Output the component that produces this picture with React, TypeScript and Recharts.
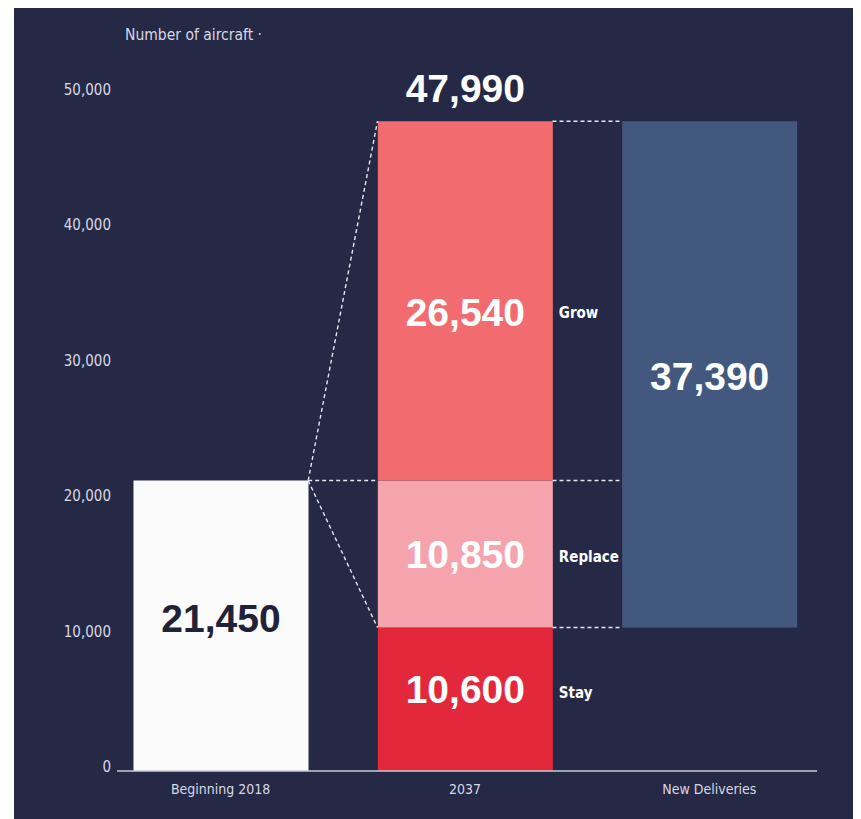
import React from "react";
import { ComposedChart, Bar, XAxis, YAxis, ReferenceLine, LabelList } from "recharts";

// ---------- data ----------
const categories = ["Beginning 2018", "2037", "New Deliveries"];
const beginning = [21450, null, null];
const stay = [null, 10600, null];
const replace = [null, 10850, null];
const grow = [null, 26540, null];
const deliveriesBase = [null, null, 10600];
const deliveries = [null, null, 37390];
const totals = [null, 47990, null];
const yTicks = [0, 10000, 20000, 30000, 40000, 50000];
const segmentNames = { stay: "Stay", replace: "Replace", grow: "Grow" };
const yAxisTitle = "Number of aircraft ·";

const data = categories.map((category, i) => ({
  category,
  beginning: beginning[i],
  stay: stay[i],
  replace: replace[i],
  grow: grow[i],
  deliveriesBase: deliveriesBase[i],
  deliveries: deliveries[i],
  total: totals[i],
}));

// ---------- layout / style ----------
const W = 847;
const H = 811;
const MARGIN = { top: 86, right: 44, bottom: 18, left: 0 };
const Y_AXIS_W = 103;
const X_AXIS_H = 30;
const PAD_L = -18.5;
const PAD_R = -14.5;
const BAR = 175;

const BG = "#252946";
const C_WHITE = "#fbfbfb";
const C_STAY = "#e3283c";
const C_REPLACE = "#f5a3ad";
const C_GROW = "#f26b6e";
const C_BLUE = "#42587e";
const C_TEXT = "#d8d8e2";
const C_DASH = "#e6e6ee";

const CONDENSED = "'Liberation Sans Narrow', 'Arial Narrow', 'DejaVu Sans Condensed', sans-serif";
const BOLD = "'Liberation Sans', Arial, Helvetica, sans-serif";
const NUM_SIZE = 39;

const fmt = (v: number) => v.toLocaleString("en-US");

const box = (p: any) => {
  const vb = p.viewBox && p.viewBox.x !== undefined ? p.viewBox : p;
  return { x: Number(vb.x), y: Number(vb.y), width: Number(vb.width), height: Number(vb.height) };
};

const valueLabel = (color: string, dy = 0) => (p: any) => {
  if (p.value === null || p.value === undefined || p.value === 0) return null;
  const { x, y, width, height } = box(p);
  return (
    <text
      x={x + width / 2}
      y={y + height / 2 + dy}
      fill={color}
      textAnchor="middle"
      dominantBaseline="central"
      style={{ fontFamily: BOLD, fontWeight: 700, fontSize: NUM_SIZE }}
    >
      {fmt(Number(p.value))}
    </text>
  );
};

const nameLabel = (name: string, dy = 0) => (p: any) => {
  if (p.value === null || p.value === undefined || p.value === 0) return null;
  const { x, y, width, height } = box(p);
  return (
    <text
      x={x + width + 6}
      y={y + height / 2 + dy}
      fill="#ffffff"
      textAnchor="start"
      dominantBaseline="central"
      style={{ fontFamily: CONDENSED, fontWeight: 700, fontSize: 15 }}
    >
      {name}
    </text>
  );
};

const totalLabel = (p: any) => {
  if (p.value === null || p.value === undefined) return null;
  const { x, y, width } = box(p);
  return (
    <text
      x={x + width / 2}
      y={y - 33}
      fill="#ffffff"
      textAnchor="middle"
      dominantBaseline="central"
      style={{ fontFamily: BOLD, fontWeight: 700, fontSize: NUM_SIZE }}
    >
      {fmt(Number(p.value))}
    </text>
  );
};

const YTick = (p: any) => (
  <text
    x={p.x}
    y={p.y - 4}
    fill={C_TEXT}
    textAnchor="end"
    dominantBaseline="central"
    style={{ fontFamily: CONDENSED, fontSize: 15 }}
  >
    {fmt(Number(p.payload.value))}
  </text>
);

const XTick = (p: any) => (
  <text
    x={p.x}
    y={p.y + 18}
    fill={C_TEXT}
    textAnchor="middle"
    dominantBaseline="central"
    style={{ fontFamily: CONDENSED, fontSize: 14 }}
  >
    {p.payload.value}
  </text>
);

const YTitle = (p: any) => {
  const vb = p.viewBox || {};
  return (
    <text
      x={Number(vb.x) + Number(vb.width) + 8}
      y={Number(vb.y) - 59}
      fill={C_TEXT}
      textAnchor="start"
      dominantBaseline="central"
      style={{ fontFamily: CONDENSED, fontSize: 15.5 }}
    >
      {yAxisTitle}
    </text>
  );
};

// dashed connector from the right edge of one bar to the left edge of the next
const Connector = (p: any) => (
  <line
    x1={Number(p.x1) + BAR / 2}
    y1={p.y1}
    x2={Number(p.x2) - BAR / 2}
    y2={p.y2}
    stroke={C_DASH}
    strokeWidth={1.4}
    strokeDasharray="4 3"
  />
);

const seg = (c1: string, v1: number, c2: string, v2: number) => [
  { x: c1, y: v1 },
  { x: c2, y: v2 },
];

export default function App() {
  const b = beginning[0] as number;
  const t = totals[1] as number;
  const s = stay[1] as number;
  const sr = (stay[1] as number) + (replace[1] as number);
  return (
    <div style={{ marginLeft: 6, width: W, height: H, background: BG }}>
      <ComposedChart width={W} height={H} data={data} margin={MARGIN}>
        <YAxis
          type="number"
          domain={[0, 50000]}
          ticks={yTicks}
          width={Y_AXIS_W}
          axisLine={false}
          tickLine={false}
          tickSize={0}
          tickMargin={6}
          tick={<YTick />}
          interval={0}
          label={{ content: <YTitle /> }}
        />
        <XAxis
          dataKey="category"
          height={X_AXIS_H}
          padding={{ left: PAD_L, right: PAD_R }}
          axisLine={{ stroke: "#c9cad4", strokeWidth: 1.6 }}
          tickLine={false}
          tickSize={0}
          tickMargin={0}
          tick={<XTick />}
          interval={0}
        />
        <Bar dataKey="beginning" stackId="s" fill={C_WHITE} barSize={BAR} isAnimationActive={false}>
          <LabelList dataKey="beginning" content={valueLabel("#1f2239", -7)} />
        </Bar>
        <Bar dataKey="stay" stackId="s" fill={C_STAY} barSize={BAR} isAnimationActive={false}>
          <LabelList dataKey="stay" content={valueLabel("#ffffff", -10)} />
          <LabelList dataKey="stay" content={nameLabel(segmentNames.stay, -6)} />
        </Bar>
        <Bar dataKey="replace" stackId="s" fill={C_REPLACE} barSize={BAR} isAnimationActive={false}>
          <LabelList dataKey="replace" content={valueLabel("#ffffff", 0)} />
          <LabelList dataKey="replace" content={nameLabel(segmentNames.replace, 3)} />
        </Bar>
        <Bar dataKey="grow" stackId="s" fill={C_GROW} barSize={BAR} isAnimationActive={false}>
          <LabelList dataKey="grow" content={valueLabel("#ffffff", 12)} />
          <LabelList dataKey="grow" content={nameLabel(segmentNames.grow, 12)} />
          <LabelList dataKey="total" content={totalLabel} />
        </Bar>
        <Bar dataKey="deliveriesBase" stackId="s" fill="transparent" barSize={BAR} isAnimationActive={false} />
        <Bar dataKey="deliveries" stackId="s" fill={C_BLUE} barSize={BAR} isAnimationActive={false}>
          <LabelList dataKey="deliveries" content={valueLabel("#ffffff", 2)} />
        </Bar>

        <ReferenceLine ifOverflow="visible" shape={Connector} segment={seg(categories[0], b, categories[1], b)} />
        <ReferenceLine ifOverflow="visible" shape={Connector} segment={seg(categories[0], b, categories[1], t)} />
        <ReferenceLine ifOverflow="visible" shape={Connector} segment={seg(categories[0], b, categories[1], s)} />
        <ReferenceLine ifOverflow="visible" shape={Connector} segment={seg(categories[1], t, categories[2], t)} />
        <ReferenceLine ifOverflow="visible" shape={Connector} segment={seg(categories[1], sr, categories[2], sr)} />
        <ReferenceLine ifOverflow="visible" shape={Connector} segment={seg(categories[1], s, categories[2], s)} />
      </ComposedChart>
    </div>
  );
}
